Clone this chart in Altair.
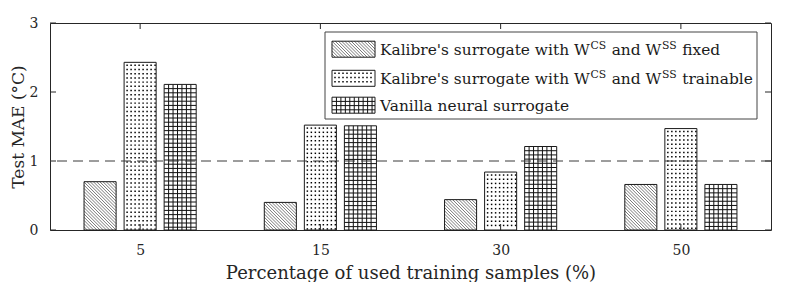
import glob
import json
import os
import struct

import altair as alt
import pandas as pd

# ---------------- data ----------------
categories = ["5", "15", "30", "50"]
# "^XX" marks a superscript
series_names = [
    "Kalibre's surrogate with W^CS and W^SS fixed",
    "Kalibre's surrogate with W^CS and W^SS trainable",
    "Vanilla neural surrogate",
]
fixed_vals = [0.70, 0.40, 0.44, 0.66]
trainable_vals = [2.43, 1.52, 0.84, 1.47]
vanilla_vals = [2.11, 1.51, 1.21, 0.66]
y_ticks = [0, 1, 2, 3]
threshold = [1.0]
patterns = ["hatch", "dots", "grid"]

# ---------------- layout ----------------
FONT = "DejaVu Serif"
INK = "#262626"
PLOT_W, PLOT_H = 721, 207
X_DOM = [0.5, 4.5]
Y_DOM = [0, 3]
SX = (X_DOM[1] - X_DOM[0]) / PLOT_W   # data units per px
SY = (Y_DOM[1] - Y_DOM[0]) / PLOT_H
GROUP_STEP = 0.2222
HALF_BAR = 0.0889
TICK_PX = 6
HATCH_STEP = 3.2
DOT_STEP_X, DOT_STEP_Y = 4.0, 4.2
GRID_STEP_X, GRID_STEP_Y = 4.45, 4.2

# legend layout in px relative to plot origin
LEG_BOX = (275, 9, 707, 96)
SWATCH_X = (282, 325)
ROW_CY = [26.2, 55.3, 82.2]
SWATCH_H = 16
TEXT_X = 330
LEG_FS = 15.4
SUP_FS = 10.8
SUP_RAISE = 5.8
BASELINE_SHIFT = 5.4


# ---------------- text measuring (for legend superscripts) ----------------
def load_measure():
    paths = []
    for pat in ["/usr/share/fonts/**/DejaVuSerif.ttf",
                "/usr/local/share/fonts/**/DejaVuSerif.ttf",
                os.path.expanduser("~/.fonts/**/DejaVuSerif.ttf"),
                os.path.expanduser("~/.local/share/fonts/**/DejaVuSerif.ttf")]:
        paths += glob.glob(pat, recursive=True)
    try:
        data = open(paths[0], "rb").read()
        num = struct.unpack(">H", data[4:6])[0]
        tables = {}
        for i in range(num):
            tag, _, off, ln = struct.unpack(">4sIII", data[12 + 16 * i: 28 + 16 * i])
            tables[tag.decode("latin1")] = off
        head = tables["head"]
        upem = struct.unpack(">H", data[head + 18: head + 20])[0]
        hhea = tables["hhea"]
        nhm = struct.unpack(">H", data[hhea + 34: hhea + 36])[0]
        hmtx = tables["hmtx"]
        cmap = tables["cmap"]
        n = struct.unpack(">H", data[cmap + 2: cmap + 4])[0]
        sub = None
        for i in range(n):
            pid, eid, off = struct.unpack(">HHI", data[cmap + 4 + 8 * i: cmap + 12 + 8 * i])
            fmt = struct.unpack(">H", data[cmap + off: cmap + off + 2])[0]
            if fmt == 4 and pid in (0, 3):
                sub = cmap + off
                break
        seg2 = struct.unpack(">H", data[sub + 6: sub + 8])[0]
        segs = seg2 // 2
        ends = struct.unpack(">%dH" % segs, data[sub + 14: sub + 14 + seg2])
        starts = struct.unpack(">%dH" % segs, data[sub + 16 + seg2: sub + 16 + 2 * seg2])
        deltas = struct.unpack(">%dh" % segs, data[sub + 16 + 2 * seg2: sub + 16 + 3 * seg2])
        rpos = sub + 16 + 3 * seg2
        roffs = struct.unpack(">%dH" % segs, data[rpos: rpos + seg2])

        def gid(ch):
            c = ord(ch)
            for i in range(segs):
                if ends[i] >= c:
                    if starts[i] > c:
                        return 0
                    if roffs[i] == 0:
                        return (c + deltas[i]) & 0xFFFF
                    addr = rpos + 2 * i + roffs[i] + 2 * (c - starts[i])
                    g = struct.unpack(">H", data[addr: addr + 2])[0]
                    return (g + deltas[i]) & 0xFFFF if g else 0
            return 0

        def adv(g):
            g = min(g, nhm - 1)
            return struct.unpack(">H", data[hmtx + 4 * g: hmtx + 4 * g + 2])[0]

        return lambda s, size: sum(adv(gid(ch)) for ch in s) * size / upem
    except Exception:
        return lambda s, size: len(s) * 0.58 * size


measure = load_measure()


def px_x(u):
    return X_DOM[0] + u * SX


def px_y(v):
    return Y_DOM[1] - v * SY


xscale = alt.Scale(domain=X_DOM, nice=False, zero=False)
yscale = alt.Scale(domain=Y_DOM, nice=False, zero=False)
label_expr = json.dumps(categories) + "[datum.value - 1]"
xaxis = alt.Axis(values=[1, 2, 3, 4], labelExpr=label_expr,
                 title="Percentage of used training samples (%)",
                 labelPadding=13, titlePadding=7)
yaxis = alt.Axis(values=y_ticks, title="Test MAE (°C)", labelPadding=12,
                 titlePadding=2, titleFontSize=17)


def X(f):
    return alt.X(f, type="quantitative", scale=xscale, axis=xaxis)


def Y(f):
    return alt.Y(f, type="quantitative", scale=yscale, axis=yaxis)


# ---------------- bar rectangles ----------------
rows = []
for si, vals in enumerate([fixed_vals, trainable_vals, vanilla_vals]):
    for gi, (c, v) in enumerate(zip(categories, vals)):
        rows.append({"cat": c, "gi": gi + 1, "si": si, "value": v,
                     "pattern": patterns[si]})
bars_df = pd.DataFrame(rows)

bars_base = alt.Chart(bars_df).transform_calculate(
    xc=f"datum.gi + (datum.si - 1) * {GROUP_STEP}"
).transform_calculate(
    xl=f"datum.xc - {HALF_BAR}",
    xr=f"datum.xc + {HALF_BAR}",
    yb="0",
    yt="datum.value",
)

# ---------------- legend rectangles + text pieces ----------------
leg_rows = []
text_rows = []
for i, name in enumerate(series_names):
    leg_rows.append({
        "name": name, "pattern": patterns[i],
        "xl": px_x(SWATCH_X[0]), "xr": px_x(SWATCH_X[1]),
        "yt": px_y(ROW_CY[i] - SWATCH_H / 2), "yb": px_y(ROW_CY[i] + SWATCH_H / 2),
    })
    # split into normal / superscript pieces
    pieces = []
    for j, part in enumerate(name.split("^")):
        if j == 0:
            pieces.append((part, False))
        else:
            k = 0
            while k < len(part) and part[k].isupper():
                k += 1
            pieces.append((part[:k], True))
            pieces.append((part[k:], False))
    cx = TEXT_X
    base_y = ROW_CY[i] + BASELINE_SHIFT
    for txt, sup in pieces:
        if not txt:
            continue
        fs = SUP_FS if sup else LEG_FS
        lead = len(txt) - len(txt.lstrip(" "))
        shown = txt.strip(" ")
        if shown:
            text_rows.append({
                "t": shown, "fs": fs,
                "x": px_x(cx + measure(txt[:lead], fs) + (0.6 if sup else 0)),
                "y": px_y(base_y - (SUP_RAISE if sup else 0)),
            })
        cx += measure(txt, fs) + (1.2 if sup else 0)
leg_df = pd.DataFrame(leg_rows)
leg_base = alt.Chart(leg_df)
text_df = pd.DataFrame(text_rows)

box_df = pd.DataFrame([{"xl": px_x(LEG_BOX[0]), "xr": px_x(LEG_BOX[2]),
                        "yt": px_y(LEG_BOX[1]), "yb": px_y(LEG_BOX[3])}])


def size_calc(base):
    return base.transform_calculate(
        w=f"(datum.xr - datum.xl) / {SX}",
        h=f"(datum.yt - datum.yb) / {SY}",
    )


def rect_layers(base, outline="#1a1a1a"):
    fill = base.mark_rect(fill="white", strokeWidth=0).encode(
        x=X("xl"), x2="xr", y=Y("yb"), y2="yt")

    hatch = size_calc(base.transform_filter("datum.pattern == 'hatch'")).transform_calculate(
        t=f"sequence(-datum.h, datum.w, {HATCH_STEP})"
    ).transform_flatten(["t"]).transform_calculate(
        u1="max(0, datum.t)",
        u2="min(datum.w, datum.t + datum.h)",
    ).transform_filter("datum.u2 - datum.u1 > 0.3").transform_calculate(
        hx1=f"datum.xl + datum.u1 * {SX}",
        hx2=f"datum.xl + datum.u2 * {SX}",
        hy1=f"datum.yt - (datum.u1 - datum.t) * {SY}",
        hy2=f"datum.yt - (datum.u2 - datum.t) * {SY}",
    ).mark_rule(color="#404040", strokeWidth=0.7).encode(
        x=X("hx1"), x2="hx2", y=Y("hy1"), y2="hy2")

    dots = size_calc(base.transform_filter("datum.pattern == 'dots'")).transform_calculate(
        us=f"sequence(3, datum.w - 0.5, {DOT_STEP_X})",
        vs=f"sequence(3, datum.h - 0.5, {DOT_STEP_Y})",
    ).transform_flatten(["us"]).transform_flatten(["vs"]).transform_calculate(
        dx=f"datum.xl + datum.us * {SX}",
        dy=f"datum.yt - datum.vs * {SY}",
    ).mark_square(size=2.2, color="#000000", opacity=1).encode(
        x=X("dx"), y=Y("dy"))

    gbase = size_calc(base.transform_filter("datum.pattern == 'grid'"))
    gv = gbase.transform_calculate(
        us=f"sequence({GRID_STEP_X}, datum.w - 2, {GRID_STEP_X})"
    ).transform_flatten(["us"]).transform_calculate(
        gx=f"datum.xl + datum.us * {SX}"
    ).mark_rule(color="#111111", strokeWidth=1).encode(
        x=X("gx"), y=Y("yb"), y2="yt")
    gh = gbase.transform_calculate(
        vs=f"sequence({GRID_STEP_Y}, datum.h - 1, {GRID_STEP_Y})"
    ).transform_flatten(["vs"]).transform_calculate(
        gy=f"datum.yt - datum.vs * {SY}"
    ).mark_rule(color="#111111", strokeWidth=1).encode(
        x=X("xl"), x2="xr", y=Y("gy"))

    edge = base.mark_rect(filled=False, stroke=outline, strokeWidth=1).encode(
        x=X("xl"), x2="xr", y=Y("yb"), y2="yt")
    return [fill, hatch, dots, gv, gh, edge]


# ---------------- ticks (inward, MATLAB style) ----------------
yt_df = pd.DataFrame({"v": y_ticks})
xt_df = pd.DataFrame({"g": list(range(1, len(categories) + 1))})

ytick_left = alt.Chart(yt_df).transform_calculate(
    a=f"{X_DOM[0]}", b=f"{X_DOM[0] + TICK_PX * SX}"
).mark_rule(color=INK, strokeWidth=1).encode(x=X("a"), x2="b", y=Y("v"))
ytick_right = alt.Chart(yt_df).transform_calculate(
    a=f"{X_DOM[1] - TICK_PX * SX}", b=f"{X_DOM[1]}"
).mark_rule(color=INK, strokeWidth=1).encode(x=X("a"), x2="b", y=Y("v"))
xtick_bottom = alt.Chart(xt_df).transform_calculate(
    a=f"{Y_DOM[0]}", b=f"{Y_DOM[0] + TICK_PX * SY}"
).mark_rule(color=INK, strokeWidth=1).encode(x=X("g"), y=Y("a"), y2="b")
xtick_top = alt.Chart(xt_df).transform_calculate(
    a=f"{Y_DOM[1] - TICK_PX * SY}", b=f"{Y_DOM[1]}"
).mark_rule(color=INK, strokeWidth=1).encode(x=X("g"), y=Y("a"), y2="b")

dashed = alt.Chart(pd.DataFrame({"y": threshold})).mark_rule(
    color="#3a3a3a", strokeWidth=1, strokeDash=[10, 6]
).encode(y=Y("y"))

# ---------------- legend ----------------
box_fill = alt.Chart(box_df).mark_rect(fill="white", stroke="#444444", strokeWidth=1).encode(
    x=X("xl"), x2="xr", y=Y("yb"), y2="yt")
leg_text = alt.Chart(text_df).mark_text(
    align="left", baseline="alphabetic", font=FONT, color="#1a1a1a"
).encode(x=X("x"), y=Y("y"), text="t:N", size=alt.Size("fs:Q", scale=None))

layers = (rect_layers(bars_base)
          + [ytick_left, ytick_right, xtick_bottom, xtick_top, dashed, box_fill]
          + rect_layers(leg_base)
          + [leg_text])

chart = alt.layer(*layers).properties(
    width=PLOT_W, height=PLOT_H,
    autosize=alt.AutoSizeParams(type="none"),
    padding={"left": 42, "top": 15, "right": 10, "bottom": 52},
).configure_view(
    stroke=INK, strokeWidth=1
).configure_axis(
    labelFont=FONT, titleFont=FONT, labelFontSize=14, titleFontSize=18,
    labelColor=INK, titleColor=INK, titleFontWeight="normal",
    grid=False, ticks=False, tickSize=0, domain=False,
)

chart.save("out.html", embed_options={"renderer": "svg", "actions": False})
